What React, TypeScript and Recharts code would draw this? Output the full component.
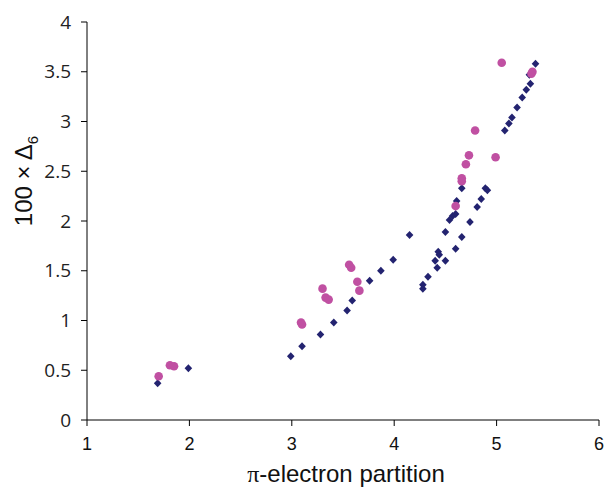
import { Scatter, ScatterChart, XAxis, YAxis } from "recharts";

const xTicks = [1, 2, 3, 4, 5, 6];
const yTicks = [0, 0.5, 1, 1.5, 2, 2.5, 3, 3.5, 4];

// navy diamonds
const navyX = [
  1.69, 1.99, 2.99, 3.1, 3.28, 3.41, 3.54, 3.59, 3.76, 3.87, 3.99, 4.15, 4.28, 4.28,
  4.33, 4.4, 4.42, 4.43, 4.44, 4.5, 4.5, 4.54, 4.57, 4.6, 4.6, 4.61, 4.66, 4.66, 4.74,
  4.81, 4.85, 4.89, 4.91, 5.08, 5.12, 5.15, 5.2, 5.25, 5.29, 5.33, 5.32, 5.38,
];
const navyY = [
  0.37, 0.52, 0.64, 0.74, 0.86, 0.98, 1.1, 1.2, 1.4, 1.5, 1.61, 1.86, 1.36, 1.32,
  1.44, 1.6, 1.53, 1.69, 1.66, 1.6, 1.89, 2.01, 2.05, 2.07, 1.72, 2.2, 1.84, 2.33, 1.99,
  2.14, 2.22, 2.33, 2.31, 2.91, 2.98, 3.04, 3.14, 3.24, 3.32, 3.38, 3.47, 3.58,
];

// magenta circles
const pinkX = [
  1.7, 1.81, 1.85, 3.09, 3.1, 3.3, 3.33, 3.36, 3.56, 3.58, 3.64, 3.66, 4.6, 4.66, 4.66,
  4.7, 4.73, 4.79, 4.99, 5.05, 5.34, 5.35,
];
const pinkY = [
  0.44, 0.55, 0.54, 0.98, 0.96, 1.32, 1.23, 1.21, 1.56, 1.53, 1.39, 1.3, 2.15, 2.43, 2.4,
  2.57, 2.66, 2.91, 2.64, 3.59, 3.48, 3.5,
];

const navyData = navyX.map((x, i) => ({ x, y: navyY[i] }));
const pinkData = pinkX.map((x, i) => ({ x, y: pinkY[i] }));

const NAVY = "#232370";
const PINK = "#c050a2";

const Diamond = (props: any) => {
  const { cx, cy } = props;
  const w = 3.8;
  const h = 4;
  return (
    <polygon
      points={`${cx},${cy - h} ${cx + w},${cy} ${cx},${cy + h} ${cx - w},${cy}`}
      fill={NAVY}
    />
  );
};

const Dot = (props: any) => <circle cx={props.cx} cy={props.cy} r={4.3} fill={PINK} />;

export default function App() {
  return (
    <div style={{ position: "absolute", left: 0, top: 0, background: "#fff" }}>
      <ScatterChart width={606} height={488} margin={{ top: 22, right: 7, bottom: 8, left: 0 }}>
        <XAxis
          type="number"
          dataKey="x"
          domain={[1, 6]}
          ticks={xTicks}
          interval={0}
          stroke="#000"
          tickSize={6}
          tickMargin={11}
          height={60}
          tick={{ fill: "#111", fontSize: 18, fontFamily: "Liberation Sans, Arial" }}
          label={() => (
            <text
              x={346}
              y={482}
              textAnchor="middle"
              fill="#111"
              fontSize={24}
              fontFamily="Liberation Sans, Arial"
            >
              <tspan fontFamily="Liberation Serif">π</tspan>-electron partition
            </text>
          )}
        />
        <YAxis
          type="number"
          dataKey="y"
          domain={[0, 4]}
          ticks={yTicks}
          interval={0}
          stroke="#000"
          tickSize={6}
          tickMargin={10}
          width={87}
          tick={{ fill: "#222", fontSize: 19, fontFamily: "Open Sans" }}
          label={() => (
            <text
              x={32}
              y={181}
              transform="rotate(-90 32 181)"
              textAnchor="middle"
              fill="#111"
              fontSize={24}
              fontFamily="Liberation Sans, Arial"
            >
              100 × Δ<tspan fontSize={15} dy={6}>6</tspan>
            </text>
          )}
        />
        <Scatter data={navyData} shape={Diamond} isAnimationActive={false} />
        <Scatter data={pinkData} shape={Dot} isAnimationActive={false} />
      </ScatterChart>
    </div>
  );
}
